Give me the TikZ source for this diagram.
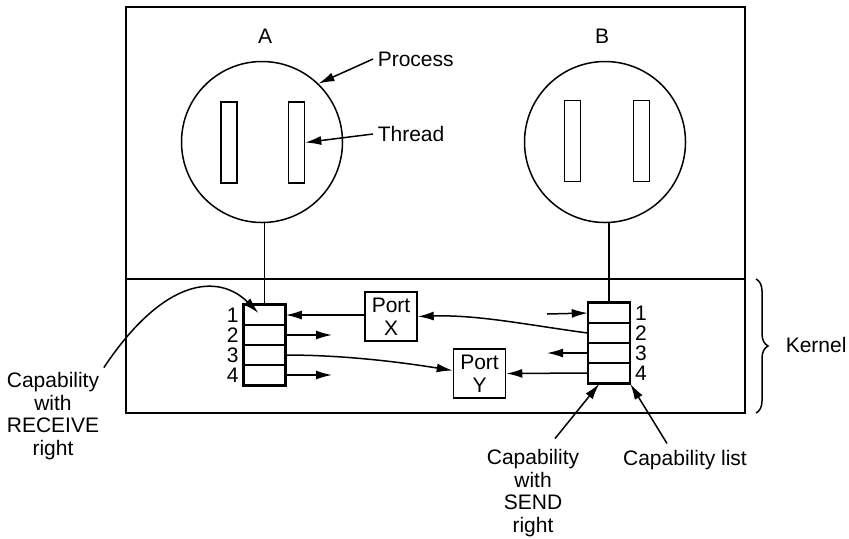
\documentclass[tikz,border=0pt]{standalone}
\usepackage{fontspec}
\setmainfont{Liberation Sans}
\usetikzlibrary{arrows.meta,decorations.pathreplacing}

\begin{document}
\begin{tikzpicture}[x=0.5pt, y=-0.5pt, line width=0.75pt,
    font=\fontsize{10.5}{11.3}\selectfont,
    proc/.style={draw, circle, minimum size=80.5pt, inner sep=0pt},
    thr/.style={draw, rectangle, minimum width=8pt, minimum height=40.5pt, inner sep=0pt},
    capcell/.style={draw, rectangle, minimum width=20.5pt, minimum height=10pt, inner sep=0pt},
    port/.style={draw, rectangle, align=center, minimum width=26pt, minimum height=24.5pt, inner sep=1pt},
    lbl/.style={align=center, inner sep=2pt},
    arr/.style={-{Latex[length=8pt, width=4.5pt]}}]
  \useasboundingbox (0,0) rectangle (849,538);
  \draw[line width=1pt] (126,7) rectangle (745,413);
  \draw (126,279) -- (745,279);
  \draw[decorate, decoration={brace, amplitude=6pt}] (756,279) -- (756,413);

  \node (nameA) at (265,36) {A};
  \node (nameB) at (602,36) {B};
  \node[proc] (pA) at (262,142) {};
  \node[proc] (pB) at (605,142) {};
  \node[thr] (tA1) at (229,142.5) {};
  \node[thr] (tA2) at (296.5,142.5) {};
  \node[thr] (tB1) at (572.5,141) {};
  \node[thr] (tB2) at (641.5,141) {};

  \foreach \i in {1,...,4} {
    \node[capcell] (cA\i) at (264.5,295+\i*20) {};
    \node[capcell] (cB\i) at (609,293+\i*20) {};
    \node[left, inner sep=2pt] (nA\i) at (cA\i.west) {\i};
    \node[right, inner sep=2pt] (nB\i) at (cB\i.east) {\i};
  }
  \draw[line width=1.1pt] (cA1.north west) rectangle (cA4.south east);
  \draw[line width=1.1pt] (cB1.north west) rectangle (cB4.south east);
  \draw (cA1.north) -- (cA1.north |- pA.south);
  \draw (cB1.north) -- (cB1.north |- pB.south);

  \node[port] (pX) at (391,316.5) {Port\\X};
  \node[port] (pY) at (479.5,373.5) {Port\\Y};

  \node[lbl, anchor=west] (lProc) at (373,59) {Process};
  \node[lbl, anchor=west] (lThr) at (373,134) {Thread};
  \node[lbl, anchor=west] (lKern) at (781,345) {Kernel};
  \node[lbl] (lRecv) at (53,416) {Capability\\with\\RECEIVE\\right};
  \node[lbl] (lSend) at (533,493) {Capability\\with\\SEND\\right};
  \node[lbl] (lList) at (685,460) {Capability list};

  \coordinate (oA2) at (332,335);
  \coordinate (oA4) at (332,375);
  \coordinate (iB1) at (547,314);
  \coordinate (oB3) at (547,353);

  \draw[arr] (lProc.west) -- (pA.46);
  \draw[arr] (lThr.west) -- (tA2.east);
  \draw[arr] (pX.west |- cA1) -- (cA1.east);
  \draw[arr] (cA2.east) -- (oA2);
  \draw[arr] (cA4.east) -- (oA4);
  \draw[arr] (cA3.east) .. controls +(60,0) and +(-50,-8) .. ([yshift=1.5pt]pY.west);
  \draw[arr] (cB2.west) .. controls +(-60,-8) and +(60,-2) .. (pX.east);
  \draw[arr] (iB1) -- (cB1.west);
  \draw[arr] (cB3.west) -- (oB3);
  \draw[arr] (cB4.west) -- (pY.east);
  \draw[arr] (lRecv.north east) .. controls +(60,-90) and +(-40,-40) .. ([xshift=-3pt,yshift=1pt]cA1.center);
  \draw[arr] ([xshift=11pt,yshift=3pt]lSend.north) -- (cB4.-132);
  \draw[arr] ([xshift=-9pt,yshift=1pt]lList.north) -- (cB4.south east);
\end{tikzpicture}
\end{document}
